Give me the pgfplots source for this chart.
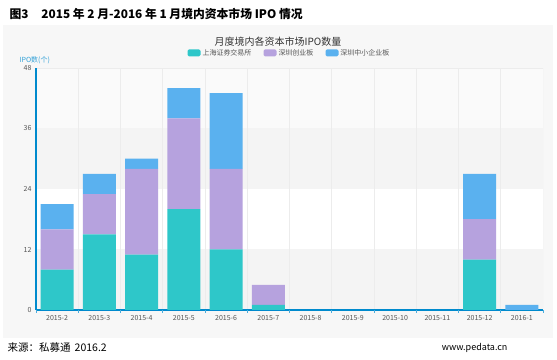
\documentclass[border=0pt]{standalone}
\usepackage{fontspec}
\setmainfont{Noto Sans CJK SC}
\usepackage{pgfplots}
\pgfplotsset{compat=1.18}
\definecolor{teal1}{HTML}{2EC7C9}
\definecolor{purp1}{HTML}{B6A2DE}
\definecolor{blue1}{HTML}{5AB1EF}
\definecolor{axisblue}{HTML}{008ACD}
\definecolor{labgray}{HTML}{555555}
\definecolor{bandgray}{HTML}{F4F4F4}
\definecolor{bandlight}{HTML}{FAFAFA}
\definecolor{gridgray}{HTML}{ECECEC}
\pgfplotsset{myframe/.style={scale only axis, width=507pt, height=242pt,
  at={(36pt,49pt)}, anchor=south west, xmin=-0.5, xmax=11.5, ymin=0, ymax=48}}
\begin{document}
\begin{tikzpicture}
\useasboundingbox (0,0) rectangle (557pt,359pt);
\fill[white] (0,0) rectangle (557pt,359pt);
\fill[color=white!97!black] (3pt,21pt) rectangle (553pt,334pt);
\node[anchor=west, font=\bfseries\fontsize{11.8}{13}\selectfont] at (6pt,345pt) {图3\hspace{1.1em}2015 年 2 月-2016 年 1 月境内资本市场 IPO 情况};
\node[anchor=center, font=\fontsize{10}{12}\selectfont, text=black!80] at (278pt,317pt) {月度境内各资本市场IPO数量};
\node[anchor=west, font=\fontsize{7}{8}\selectfont, text=axisblue!80] at (16pt,299pt) {IPO数(个)};
\node[anchor=west, font=\fontsize{10.5}{12}\selectfont] at (4pt,11pt) {来源：私募通\hspace{0.4em}2016.2};
\node[anchor=east, font=\fontsize{9}{11}\selectfont] at (511pt,11pt) {www.pedata.cn};
% background bands and vertical grid lines
\begin{axis}[myframe, hide axis]
\fill[bandgray] (axis cs:-0.5,0) rectangle (axis cs:11.5,12);
\fill[white] (axis cs:-0.5,12) rectangle (axis cs:11.5,24);
\fill[bandgray] (axis cs:-0.5,24) rectangle (axis cs:11.5,36);
\fill[bandlight] (axis cs:-0.5,36) rectangle (axis cs:11.5,48);
\draw[gridgray, line width=0.6pt] (axis cs:-0.5,48) -- (axis cs:11.5,48);
\pgfplotsinvokeforeach{0,...,12}{\draw[gridgray, line width=0.6pt] (axis cs:#1-0.5,0) -- (axis cs:#1-0.5,48);}
\end{axis}
\begin{axis}[
  myframe,
  ybar stacked, bar width=33pt,
  xtick={0,...,11},
  xticklabels={2015-2,2015-3,2015-4,2015-5,2015-6,2015-7,2015-8,2015-9,2015-10,2015-11,2015-12,2016-1},
  ytick={0,12,24,36,48},
  major tick length=0pt,
  extra x ticks={-0.5,0.5,1.5,2.5,3.5,4.5,5.5,6.5,7.5,8.5,9.5,10.5,11.5},
  extra x tick labels={},
  extra x tick style={major tick length=3pt, tick align=outside, tick style={draw=axisblue!70, line width=0.6pt}},
  axis x line*=bottom, axis y line*=left,
  axis line style={-},
  x axis line style={draw=axisblue, line width=1.6pt},
  y axis line style={draw=axisblue, line width=1.2pt},
  tick label style={font=\fontsize{7}{8}\selectfont, text=labgray},
  /pgf/number format/assume math mode=true,
  xticklabel style={yshift=-2pt},
  yticklabel style={xshift=-1pt},
  legend style={at={(0.5,1.062)}, anchor=center, draw=none, fill=none,
    font=\fontsize{7}{8}\selectfont, text=labgray, legend columns=3,
    /tikz/every even column/.append style={column sep=10pt}},
  legend image code/.code={\fill[#1, draw=none, rounded corners=1.5pt] (0pt,-3.5pt) rectangle (13pt,3.5pt);},
]
\addplot[fill=teal1, draw=none] coordinates {(0,8) (1,15) (2,11) (3,20) (4,12) (5,1) (6,0) (7,0) (8,0) (9,0) (10,10) (11,0)};
\addplot[fill=purp1, draw=none] coordinates {(0,8) (1,8) (2,17) (3,18) (4,16) (5,4) (6,0) (7,0) (8,0) (9,0) (10,8) (11,0)};
\addplot[fill=blue1, draw=none] coordinates {(0,5) (1,4) (2,2) (3,6) (4,15) (5,0) (6,0) (7,0) (8,0) (9,0) (10,9) (11,1)};
\legend{上海证券交易所,深圳创业板,深圳中小企业板}
\end{axis}
\end{tikzpicture}
\end{document}
